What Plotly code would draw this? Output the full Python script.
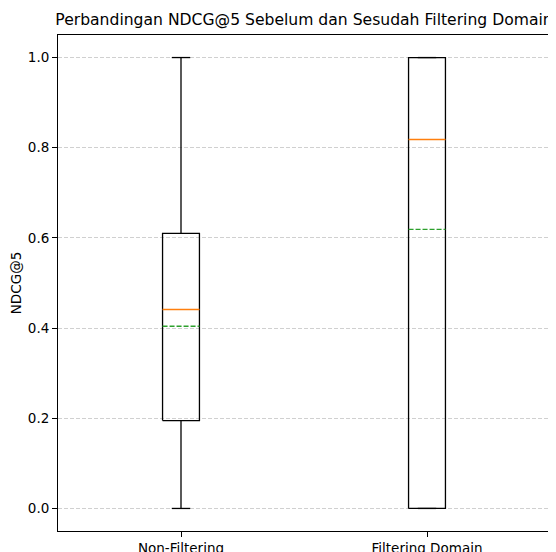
import plotly.graph_objects as go

categories = ["Non-Filtering", "Filtering Domain"]
positions = [1, 2]
whisker_low = [0.0, 0.0]
q1 = [0.195, 0.0]
median = [0.441, 0.818]
mean = [0.404, 0.619]
q3 = [0.610, 1.0]
whisker_high = [1.0, 1.0]
y_ticks = [0.0, 0.2, 0.4, 0.6, 0.8, 1.0]

box_half = 0.075
cap_half = 0.0375
LW = 1.3

fig = go.Figure()

for i, p in enumerate(positions):
    # box
    fig.add_trace(go.Scatter(
        x=[p - box_half, p + box_half, p + box_half, p - box_half, p - box_half],
        y=[q1[i], q1[i], q3[i], q3[i], q1[i]],
        mode="lines", line=dict(color="black", width=LW), showlegend=False, hoverinfo="skip"))
    # whiskers
    fig.add_trace(go.Scatter(
        x=[p, p, None, p, p],
        y=[whisker_low[i], q1[i], None, q3[i], whisker_high[i]],
        mode="lines", line=dict(color="black", width=LW), showlegend=False, hoverinfo="skip"))
    # caps
    fig.add_trace(go.Scatter(
        x=[p - cap_half, p + cap_half, None, p - cap_half, p + cap_half],
        y=[whisker_low[i], whisker_low[i], None, whisker_high[i], whisker_high[i]],
        mode="lines", line=dict(color="black", width=LW), showlegend=False, hoverinfo="skip"))
    # median
    fig.add_trace(go.Scatter(
        x=[p - box_half, p + box_half], y=[median[i], median[i]],
        mode="lines", line=dict(color="#ff7f0e", width=1.5), showlegend=False, hoverinfo="skip"))
    # mean
    fig.add_trace(go.Scatter(
        x=[p - box_half, p + box_half], y=[mean[i], mean[i]],
        mode="lines", line=dict(color="#2ca02c", width=1.4, dash="5px,2px"), showlegend=False, hoverinfo="skip"))

# The page body adds an 8px offset, so the figure is sized 548x544 to fit the window.
fig.update_layout(
    width=548, height=544,
    margin=dict(l=50, r=6, t=27, b=21),
    plot_bgcolor="white", paper_bgcolor="white",
    font=dict(family="DejaVu Sans", size=13.5, color="black"),
    title=dict(text="Perbandingan NDCG@5 Sebelum dan Sesudah Filtering Domain",
               x=0.5, xref="paper", xanchor="center",
               y=1 - 12 / 544, yref="container", yanchor="middle",
               font=dict(size=15.6, color="black")),
    xaxis=dict(range=[0.5, 2.5], tickmode="array", tickvals=positions, ticktext=categories,
               showgrid=False, zeroline=False, showline=True, linecolor="black", linewidth=1,
               mirror=True, ticks="outside", ticklen=5, tickcolor="black", automargin=False,
               tickfont=dict(size=13.5)),
    yaxis=dict(range=[-0.05, 1.05], tickmode="array", tickvals=y_ticks,
               ticktext=[f"{v:.1f}" for v in y_ticks],
               showgrid=True, gridcolor="#d0d0d0", griddash="4px,2px", gridwidth=1,
               zeroline=False, showline=True, linecolor="black", linewidth=1,
               mirror=True, ticks="outside", ticklen=5, tickcolor="black", automargin=False,
               tickfont=dict(size=13.5),
               title=dict(text="NDCG@5", standoff=6, font=dict(size=13.5))),
)

fig.write_html("out.html")
